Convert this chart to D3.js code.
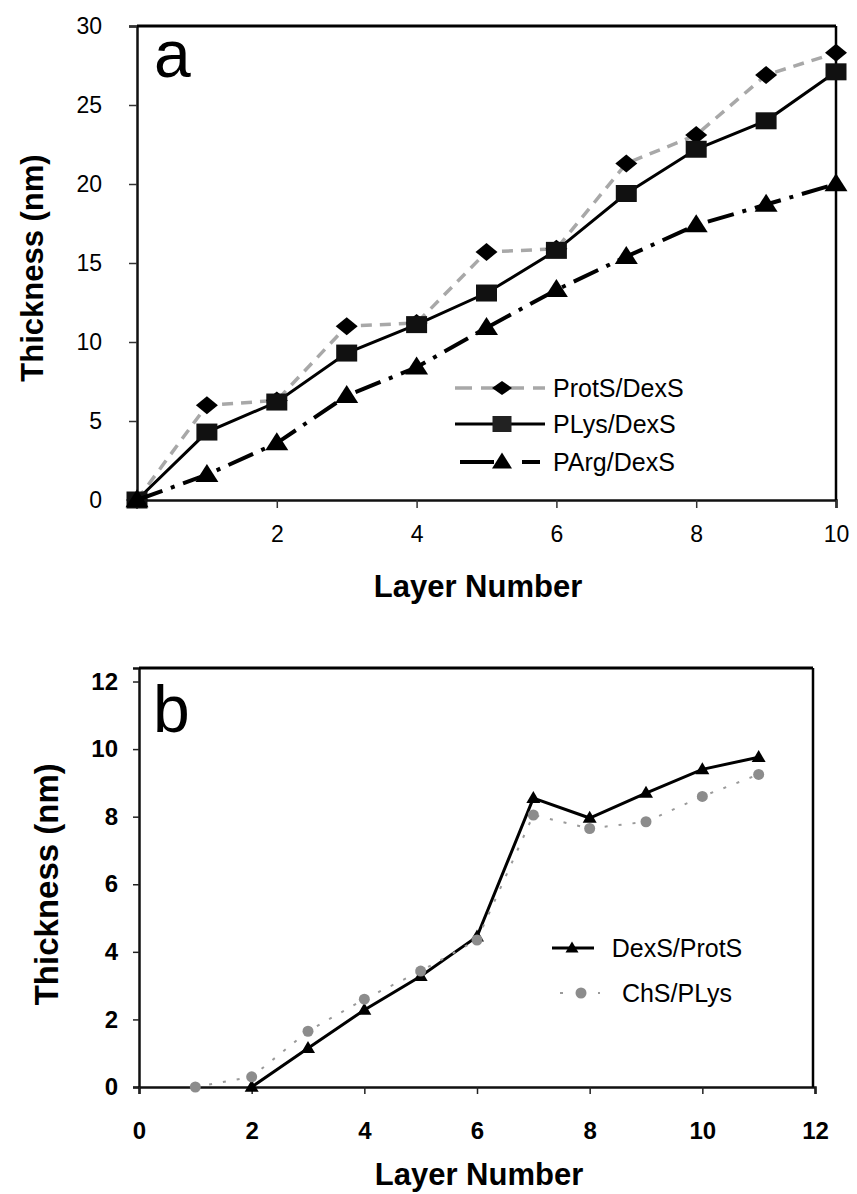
<!DOCTYPE html>
<html>
<head>
<meta charset="utf-8">
<script src="https://cdn.jsdelivr.net/npm/d3@7"></script>
<style>
  html, body { margin: 0; padding: 0; background: #fff; }
  svg { display: block; font-family: "Liberation Sans", Arial, sans-serif; }
</style>
</head>
<body>
<svg id="chart" width="857" height="1194"></svg>
<script>
// ---------- Panel a data ----------
const layersA = [0, 1, 2, 3, 4, 5, 6, 7, 8, 9, 10];
const protS_DexS = [0, 6.0, 6.3, 11.0, 11.2, 15.7, 15.9, 21.3, 23.1, 26.9, 28.3];
const pLys_DexS  = [0, 4.3, 6.2, 9.3, 11.1, 13.1, 15.8, 19.4, 22.2, 24.0, 27.1];
const pArg_DexS  = [0, 1.6, 3.6, 6.6, 8.4, 10.9, 13.3, 15.4, 17.4, 18.7, 20.0];
const ticksAx = [2, 4, 6, 8, 10];
const ticksAy = [0, 5, 10, 15, 20, 25, 30];
const legendA = ["ProtS/DexS", "PLys/DexS", "PArg/DexS"];

// ---------- Panel b data ----------
const layersB_dexs = [2, 3, 4, 5, 6, 7, 8, 9, 10, 11];
const dexS_ProtS   = [0, 1.15, 2.28, 3.28, 4.45, 8.55, 7.96, 8.7, 9.4, 9.76];
const layersB_chs  = [1, 2, 3, 4, 5, 6, 7, 8, 9, 10, 11];
const chS_PLys     = [0, 0.3, 1.65, 2.6, 3.43, 4.35, 8.05, 7.65, 7.85, 8.6, 9.25];
const ticksBx = [0, 2, 4, 6, 8, 10, 12];
const ticksBy = [0, 2, 4, 6, 8, 10, 12];
const legendB = ["DexS/ProtS", "ChS/PLys"];

const svg = d3.select("#chart");
svg.append("rect").attr("width", 857).attr("height", 1194).attr("fill", "#fff");

// marker path generators (slightly wider than tall, like the source)
function diamond(w, h) { return `M0,${-h/2}L${w/2},0L0,${h/2}L${-w/2},0Z`; }
function square(w, h) { return `M${-w/2},${-h/2}h${w}v${h}h${-w}Z`; }
function triangle(w, h) { return `M0,${-h*0.6}L${w/2},${h*0.4}L${-w/2},${h*0.4}Z`; }

// ================= PANEL A =================
const xa = d3.scaleLinear().domain([0, 10]).range([137, 836]);
const ya = d3.scaleLinear().domain([0, 30]).range([500, 26]);
const ga = svg.append("g");

// axes
const axA_y = d3.axisLeft(ya).tickValues(ticksAy).tickSize(8).tickPadding(27).tickFormat(d3.format("d"));
const axA_x = d3.axisBottom(xa).tickValues(ticksAx).tickSize(8).tickPadding(18).tickFormat(d3.format("d"));
const gay = ga.append("g").attr("transform", `translate(${xa(0)},0)`).call(axA_y);
const gax = ga.append("g").attr("transform", `translate(0,${ya(0)})`).call(axA_x);
[gay, gax].forEach(g => {
  g.select(".domain").attr("stroke", "#111").attr("stroke-width", 2.5);
  g.selectAll(".tick line").attr("stroke", "#333").attr("stroke-width", 1.5);
  g.selectAll(".tick text").attr("fill", "#000").style("font-size", "23px").style("font-family", "'Liberation Sans', Arial, sans-serif");
});
// frame top & right
ga.append("line").attr("x1", xa(0)).attr("x2", xa(10)).attr("y1", ya(30)).attr("y2", ya(30)).attr("stroke", "#000").attr("stroke-width", 3);
ga.append("line").attr("x1", xa(10)).attr("x2", xa(10)).attr("y1", ya(30)).attr("y2", ya(0)).attr("stroke", "#000").attr("stroke-width", 2.5);

// lines
const lineA = vals => d3.line().x((d, i) => xa(layersA[i])).y(d => ya(d))(vals);
ga.append("path").attr("d", lineA(protS_DexS)).attr("fill", "none").attr("stroke", "#a8a8a8").attr("stroke-width", 3.5).attr("stroke-dasharray", "11,8");
ga.selectAll(".dia").data(protS_DexS).join("path").attr("class", "dia")
  .attr("d", diamond(22, 18)).attr("fill", "#000")
  .attr("transform", (d, i) => `translate(${xa(layersA[i])},${ya(d)})`);

ga.append("path").attr("d", lineA(pLys_DexS)).attr("fill", "none").attr("stroke", "#000").attr("stroke-width", 3);
ga.selectAll(".sq").data(pLys_DexS).join("path").attr("class", "sq")
  .attr("d", square(21, 17)).attr("fill", "#111")
  .attr("transform", (d, i) => `translate(${xa(layersA[i])},${ya(d)})`);

ga.append("path").attr("d", lineA(pArg_DexS)).attr("fill", "none").attr("stroke", "#000").attr("stroke-width", 4).attr("stroke-dasharray", "27,9,4,9");
ga.selectAll(".tri").data(pArg_DexS).join("path").attr("class", "tri")
  .attr("d", triangle(23, 18)).attr("fill", "#000")
  .attr("transform", (d, i) => `translate(${xa(layersA[i])},${ya(d)})`);

// panel label
ga.append("text").attr("x", 154).attr("y", 77).text("a").style("font-size", "66px").attr("fill", "#000");

// axis titles
ga.append("text").attr("transform", `translate(43,${(ya(0) + ya(30)) / 2 + 5}) rotate(-90)`)
  .attr("text-anchor", "middle").style("font-size", "31px").style("font-weight", "bold").text("Thickness (nm)");
ga.append("text").attr("x", 478).attr("y", 597).attr("text-anchor", "middle")
  .style("font-size", "31px").style("font-weight", "bold").text("Layer Number");

// legend a
const legAy = [388, 424, 462];
const legA = ga.append("g");
// ProtS
legA.append("line").attr("x1", 455).attr("x2", 545).attr("y1", legAy[0]).attr("y2", legAy[0])
  .attr("stroke", "#a8a8a8").attr("stroke-width", 3.5).attr("stroke-dasharray", "17,9");
legA.append("path").attr("d", diamond(20, 14)).attr("fill", "#000").attr("transform", `translate(502,${legAy[0]})`);
// PLys
legA.append("line").attr("x1", 455).attr("x2", 545).attr("y1", legAy[1]).attr("y2", legAy[1])
  .attr("stroke", "#000").attr("stroke-width", 3);
legA.append("path").attr("d", square(19, 16)).attr("fill", "#222").attr("transform", `translate(502,${legAy[1]})`);
// PArg
legA.append("line").attr("x1", 460).attr("x2", 540).attr("y1", legAy[2]).attr("y2", legAy[2])
  .attr("stroke", "#000").attr("stroke-width", 4).attr("stroke-dasharray", "34,28,30");
legA.append("path").attr("d", triangle(20, 16)).attr("fill", "#000").attr("transform", `translate(502,${legAy[2]})`);
legA.selectAll("text").data(legendA).join("text")
  .attr("x", 553).attr("y", (d, i) => legAy[i] + 9).style("font-size", "25px").attr("fill", "#000").text(d => d);

// ================= PANEL B =================
const xb = d3.scaleLinear().domain([0, 12]).range([139, 815]);
const yb = d3.scaleLinear().domain([0, 12.4]).range([1087, 668]);
const gb = svg.append("g");

const axB_y = d3.axisLeft(yb).tickValues(ticksBy).tickSize(6).tickPadding(15).tickFormat(d3.format("d"));
const axB_x = d3.axisBottom(xb).tickValues(ticksBx).tickSize(7).tickPadding(28).tickFormat(d3.format("d"));
const gby = gb.append("g").attr("transform", `translate(${xb(0)},0)`).call(axB_y);
const gbx = gb.append("g").attr("transform", `translate(0,${yb(0)})`).call(axB_x);
[gby, gbx].forEach(g => {
  g.select(".domain").attr("stroke", "#111").attr("stroke-width", 2.5);
  g.selectAll(".tick line").attr("stroke", "#222").attr("stroke-width", 1.5);
  g.selectAll(".tick text").attr("fill", "#000").style("font-size", "24px").style("font-weight", "bold")
    .style("font-family", "'Liberation Sans', Arial, sans-serif");
});
gb.append("line").attr("x1", xb(0)).attr("x2", xb(12) - 2).attr("y1", yb(12.4)).attr("y2", yb(12.4)).attr("stroke", "#000").attr("stroke-width", 3);
gb.append("line").attr("x1", xb(12) - 2).attr("x2", xb(12) - 2).attr("y1", yb(12.4)).attr("y2", yb(0)).attr("stroke", "#000").attr("stroke-width", 2.5);

const lineBd = d3.line().x((d, i) => xb(layersB_dexs[i])).y(d => yb(d));
const lineBc = d3.line().x((d, i) => xb(layersB_chs[i])).y(d => yb(d));
gb.append("path").attr("d", lineBd(dexS_ProtS)).attr("fill", "none").attr("stroke", "#000").attr("stroke-width", 3);
gb.append("path").attr("d", lineBc(chS_PLys)).attr("fill", "none").attr("stroke", "#9a9a9a").attr("stroke-width", 2)
  .attr("stroke-dasharray", "3,11");
gb.selectAll(".btri").data(dexS_ProtS).join("path").attr("class", "btri")
  .attr("d", triangle(14, 12)).attr("fill", "#000")
  .attr("transform", (d, i) => `translate(${xb(layersB_dexs[i])},${yb(d)})`);
gb.selectAll(".bcirc").data(chS_PLys).join("circle").attr("class", "bcirc")
  .attr("r", 5.5).attr("fill", "#8c8c8c")
  .attr("cx", (d, i) => xb(layersB_chs[i])).attr("cy", d => yb(d));

gb.append("text").attr("x", 153).attr("y", 732).text("b").style("font-size", "66px").attr("fill", "#000");

gb.append("text").attr("transform", `translate(58,${(yb(0) + yb(12)) / 2}) rotate(-90)`)
  .attr("text-anchor", "middle").style("font-size", "33px").style("font-weight", "bold").text("Thickness (nm)");
gb.append("text").attr("x", 479).attr("y", 1185).attr("text-anchor", "middle")
  .style("font-size", "31px").style("font-weight", "bold").text("Layer Number");

// legend b
const legBy = [948, 993];
const legB = gb.append("g");
legB.append("line").attr("x1", 552).attr("x2", 594).attr("y1", legBy[0]).attr("y2", legBy[0]).attr("stroke", "#000").attr("stroke-width", 3);
legB.append("path").attr("d", triangle(13, 11)).attr("fill", "#000").attr("transform", `translate(572,${legBy[0]})`);
legB.append("line").attr("x1", 560).attr("x2", 600).attr("y1", legBy[1]).attr("y2", legBy[1]).attr("stroke", "#9a9a9a").attr("stroke-width", 2)
  .attr("stroke-dasharray", "3,16");
legB.append("circle").attr("cx", 581).attr("cy", legBy[1]).attr("r", 5.5).attr("fill", "#8c8c8c");
legB.selectAll("text").data(legendB).join("text")
  .attr("x", 677).attr("y", (d, i) => legBy[i] + 9).attr("text-anchor", "middle")
  .style("font-size", "25px").attr("fill", "#000").text(d => d);
</script>
</body>
</html>
